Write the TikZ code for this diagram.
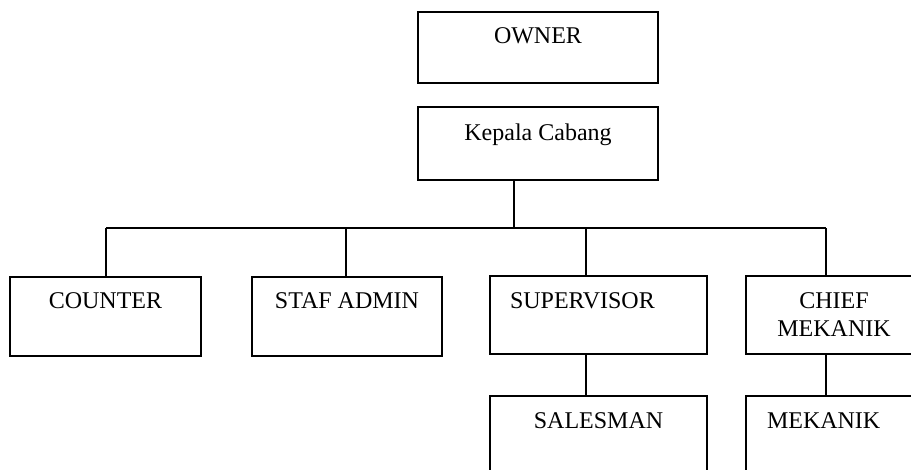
\documentclass[tikz,border=0pt]{standalone}
\usepackage{fontspec}
\setmainfont{Liberation Serif}
\usetikzlibrary{positioning, calc}

\tikzset{
  unitbox/.style={draw, line width=1.3pt, inner sep=0pt},
  lbl/.style={inner sep=0pt, font=\fontsize{24}{28}\selectfont}
}

\begin{document}
\begin{tikzpicture}[x=1pt, y=-1pt, line width=1.3pt]

  %% page frame (911 x 470)
  \clip (0,0) rectangle (911,470);
  \fill[white] (0,0) rectangle (911,470);

  %% Boxes
  \node[unitbox, minimum width=240pt, minimum height=71pt] (owner)   at (538,47.5)  {};
  \node[unitbox, minimum width=240pt, minimum height=73pt] (kepala)  at (538,143.5) {};
  \node[unitbox, minimum width=191pt, minimum height=79pt] (counter) at (105.5,316.5) {};
  \node[unitbox, minimum width=190pt, minimum height=79pt] (staf)    at (347,316.5) {};
  \node[unitbox, minimum width=217pt, minimum height=78pt] (super)   at (598.5,315) {};
  \node[unitbox, minimum width=176pt, minimum height=78pt] (chief)   at (834,315) {};
  \node[unitbox, minimum width=217pt, minimum height=78pt] (sales)   at (598.5,435) {};
  \node[unitbox, minimum width=176pt, minimum height=78pt] (mekanik) at (834,435) {};

  %% Labels (text sits near the top of each box)
  \node[lbl, anchor=base] at ([yshift=-32pt]owner.north)   {OWNER};
  \node[lbl, anchor=base] at ([yshift=-34pt]kepala.north)  {Kepala Cabang};
  \node[lbl, anchor=base] at ([yshift=-32pt]counter.north) {COUNTER};
  \node[lbl, anchor=base] at ([yshift=-32pt]staf.north)    {STAF ADMIN};
  \node[lbl, anchor=base west] at ([xshift=20pt, yshift=-33pt]super.north west) {SUPERVISOR};
  \node[lbl, anchor=north, align=center] at ([yshift=-17pt]chief.north) {CHIEF\\MEKANIK};
  \node[lbl, anchor=base] at ([yshift=-33pt]sales.north)   {SALESMAN};
  \node[lbl, anchor=base west] at ([xshift=21pt, yshift=-33pt]mekanik.north west) {MEKANIK};

  %% Connectors
  \coordinate (bus) at (0,228);
  \draw ([xshift=-24pt]kepala.south) -- ([xshift=-24pt]kepala.south |- bus);
  \draw ([xshift=0.5pt]counter.north |- bus) -- ([xshift=-8pt]chief.north |- bus);
  \foreach \n/\dx in {counter/0.5, staf/-1, super/-12.5, chief/-8}{
    \draw ([xshift=\dx pt]\n.north) -- ([xshift=\dx pt]\n.north |- bus);
  }
  \draw ([xshift=-12.5pt]super.south) -- ([xshift=-12.5pt]sales.north);
  \draw ([xshift=-8pt]chief.south) -- ([xshift=-8pt]mekanik.north);

\end{tikzpicture}
\end{document}
